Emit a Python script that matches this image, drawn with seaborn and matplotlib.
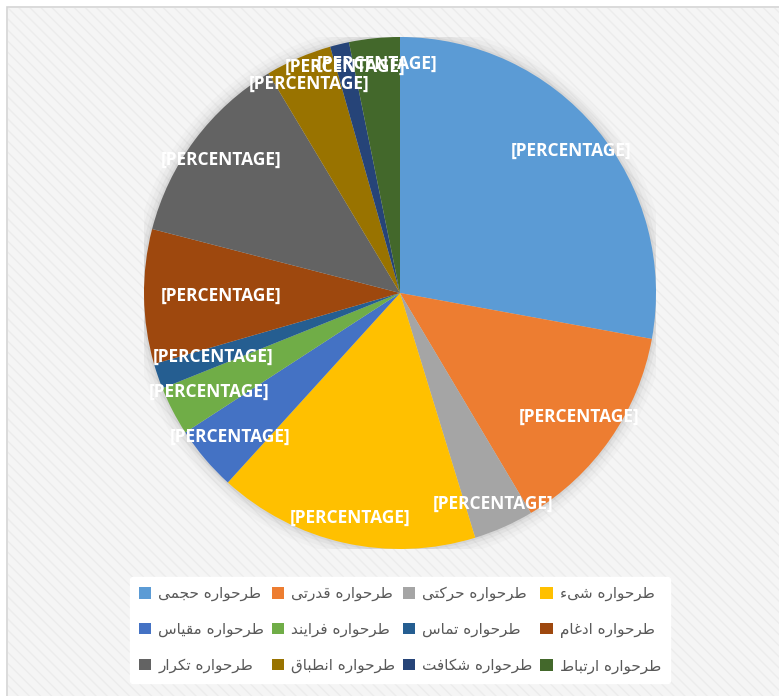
import matplotlib
matplotlib.use("Agg")
import matplotlib.pyplot as plt
import seaborn as sns
import numpy as np
from matplotlib.patches import Rectangle, Circle

# data (share of each schema, %)
categories = ['طرحواره حجمی', 'طرحواره قدرتی', 'طرحواره حرکتی', 'طرحواره شیء',
              'طرحواره مقیاس', 'طرحواره فرایند', 'طرحواره تماس', 'طرحواره ادغام',
              'طرحواره تکرار', 'طرحواره انطباق', 'طرحواره شکافت', 'طرحواره ارتباط']
values = [27.9, 13.6, 3.8, 16.5, 4.1, 3.1, 1.6, 8.5, 12.4, 4.2, 1.2, 3.2]
label_text = '[PERCENTAGE]'

colors = ['#5B9BD5', '#ED7D31', '#A5A5A5', '#FFC000', '#4472C4', '#70AD47',
          '#255E91', '#9E480E', '#636363', '#997300', '#264478', '#43682B']
label_r = [0.87, 0.85, 0.9, 0.9, 0.87, 0.84, 0.77, 0.70, 0.87, 0.89, 0.91, 0.9]

# --- tiny arabic/persian shaper (matplotlib has no shaping / bidi) ---
forms = {
    'ا': (0xFE8D, 0xFE8E, None, None), 'ب': (0xFE8F, 0xFE90, 0xFE91, 0xFE92),
    'ت': (0xFE95, 0xFE96, 0xFE97, 0xFE98), 'ج': (0xFE9D, 0xFE9E, 0xFE9F, 0xFEA0),
    'ح': (0xFEA1, 0xFEA2, 0xFEA3, 0xFEA4), 'د': (0xFEA9, 0xFEAA, None, None),
    'ر': (0xFEAD, 0xFEAE, None, None), 'س': (0xFEB1, 0xFEB2, 0xFEB3, 0xFEB4),
    'ش': (0xFEB5, 0xFEB6, 0xFEB7, 0xFEB8), 'ط': (0xFEC1, 0xFEC2, 0xFEC3, 0xFEC4),
    'غ': (0xFECD, 0xFECE, 0xFECF, 0xFED0), 'ف': (0xFED1, 0xFED2, 0xFED3, 0xFED4),
    'ق': (0xFED5, 0xFED6, 0xFED7, 0xFED8), 'م': (0xFEE1, 0xFEE2, 0xFEE3, 0xFEE4),
    'ن': (0xFEE5, 0xFEE6, 0xFEE7, 0xFEE8), 'ه': (0xFEE9, 0xFEEA, 0xFEEB, 0xFEEC),
    'و': (0xFEED, 0xFEEE, None, None), 'ک': (0xFB8E, 0xFB8F, 0xFB90, 0xFB91),
    'ی': (0xFBFC, 0xFBFD, 0xFBFE, 0xFBFF),
}


def shape(s):
    out = []
    for i, ch in enumerate(s):
        if ch not in forms:
            out.append(ch)
            continue
        prev = s[i - 1] if i > 0 else ''
        nxt = s[i + 1] if i + 1 < len(s) else ''
        jp = prev in forms and forms[prev][2] is not None
        jn = forms[ch][2] is not None and nxt in forms
        f = forms[ch]
        if jp and jn:
            code = f[3]
        elif jp:
            code = f[1]
        elif jn:
            code = f[2]
        else:
            code = f[0]
        out.append(chr(code))
    return ''.join(out)[::-1]


sns.set_style("white")
plt.rcParams['font.family'] = ['DejaVu Sans']

fig = plt.figure(figsize=(7.79, 6.96), dpi=100)
fig.patch.set_facecolor('white')

# chart area background (behind the axes)
bg = Rectangle((8 / 779, -0.01), 1.0, 1 - 8 / 696 + 0.01, transform=fig.transFigure,
               facecolor='#f5f5f5', edgecolor='#ececec', hatch='\\\\\\', lw=0, zorder=-5)
fig.patches.append(bg)
border = Rectangle((7 / 779, -0.01), 1.0, 1 - 7 / 696 + 0.01, transform=fig.transFigure,
                   facecolor='none', edgecolor='#d4d4d4', lw=1.2, zorder=-4)
fig.patches.append(border)

ax = fig.add_axes([144 / 779, 147 / 696, 512 / 779, 512 / 696])
ax.set_facecolor('none')

# soft shadow behind the pie
for r, a in [(1.05, 0.04), (1.035, 0.06), (1.02, 0.09), (1.008, 0.12)]:
    ax.add_patch(Circle((0, 0), r, color='#8a8a8a', alpha=a, lw=0, zorder=0))

wedges, _ = ax.pie(values, colors=sns.color_palette(colors), startangle=90,
                   counterclock=False, radius=1.0,
                   wedgeprops=dict(linewidth=0))

for w, r in zip(wedges, label_r):
    mid = np.deg2rad((w.theta1 + w.theta2) / 2)
    ax.text(r * np.cos(mid), r * np.sin(mid), label_text, ha='center', va='center',
            color='white', fontsize=12.5, fontweight='bold', family='Open Sans', zorder=5)

ax.set_xlim(-1, 1)
ax.set_ylim(-1, 1)
ax.set_aspect('equal')
ax.axis('off')

order = [0, 4, 8, 1, 5, 9, 2, 6, 10, 3, 7, 11]
leg = fig.legend([wedges[i] for i in order], [shape(categories[i]) for i in order],
                 ncol=4, loc='lower left', bbox_to_anchor=(130 / 779, 13 / 696, 540 / 779, 115 / 696),
                 mode='expand', frameon=True, fontsize=11, handlelength=0.8, handleheight=0.8,
                 handletextpad=0.45, columnspacing=1.6, labelspacing=1.35, borderpad=0.6,
                 borderaxespad=0)
leg.get_frame().set_facecolor('white')
leg.get_frame().set_edgecolor('white')
leg.get_frame().set_alpha(1)
leg.set_zorder(10)
for t in leg.get_texts():
    t.set_color('#595959')

fig.savefig('out.png', dpi=100)
